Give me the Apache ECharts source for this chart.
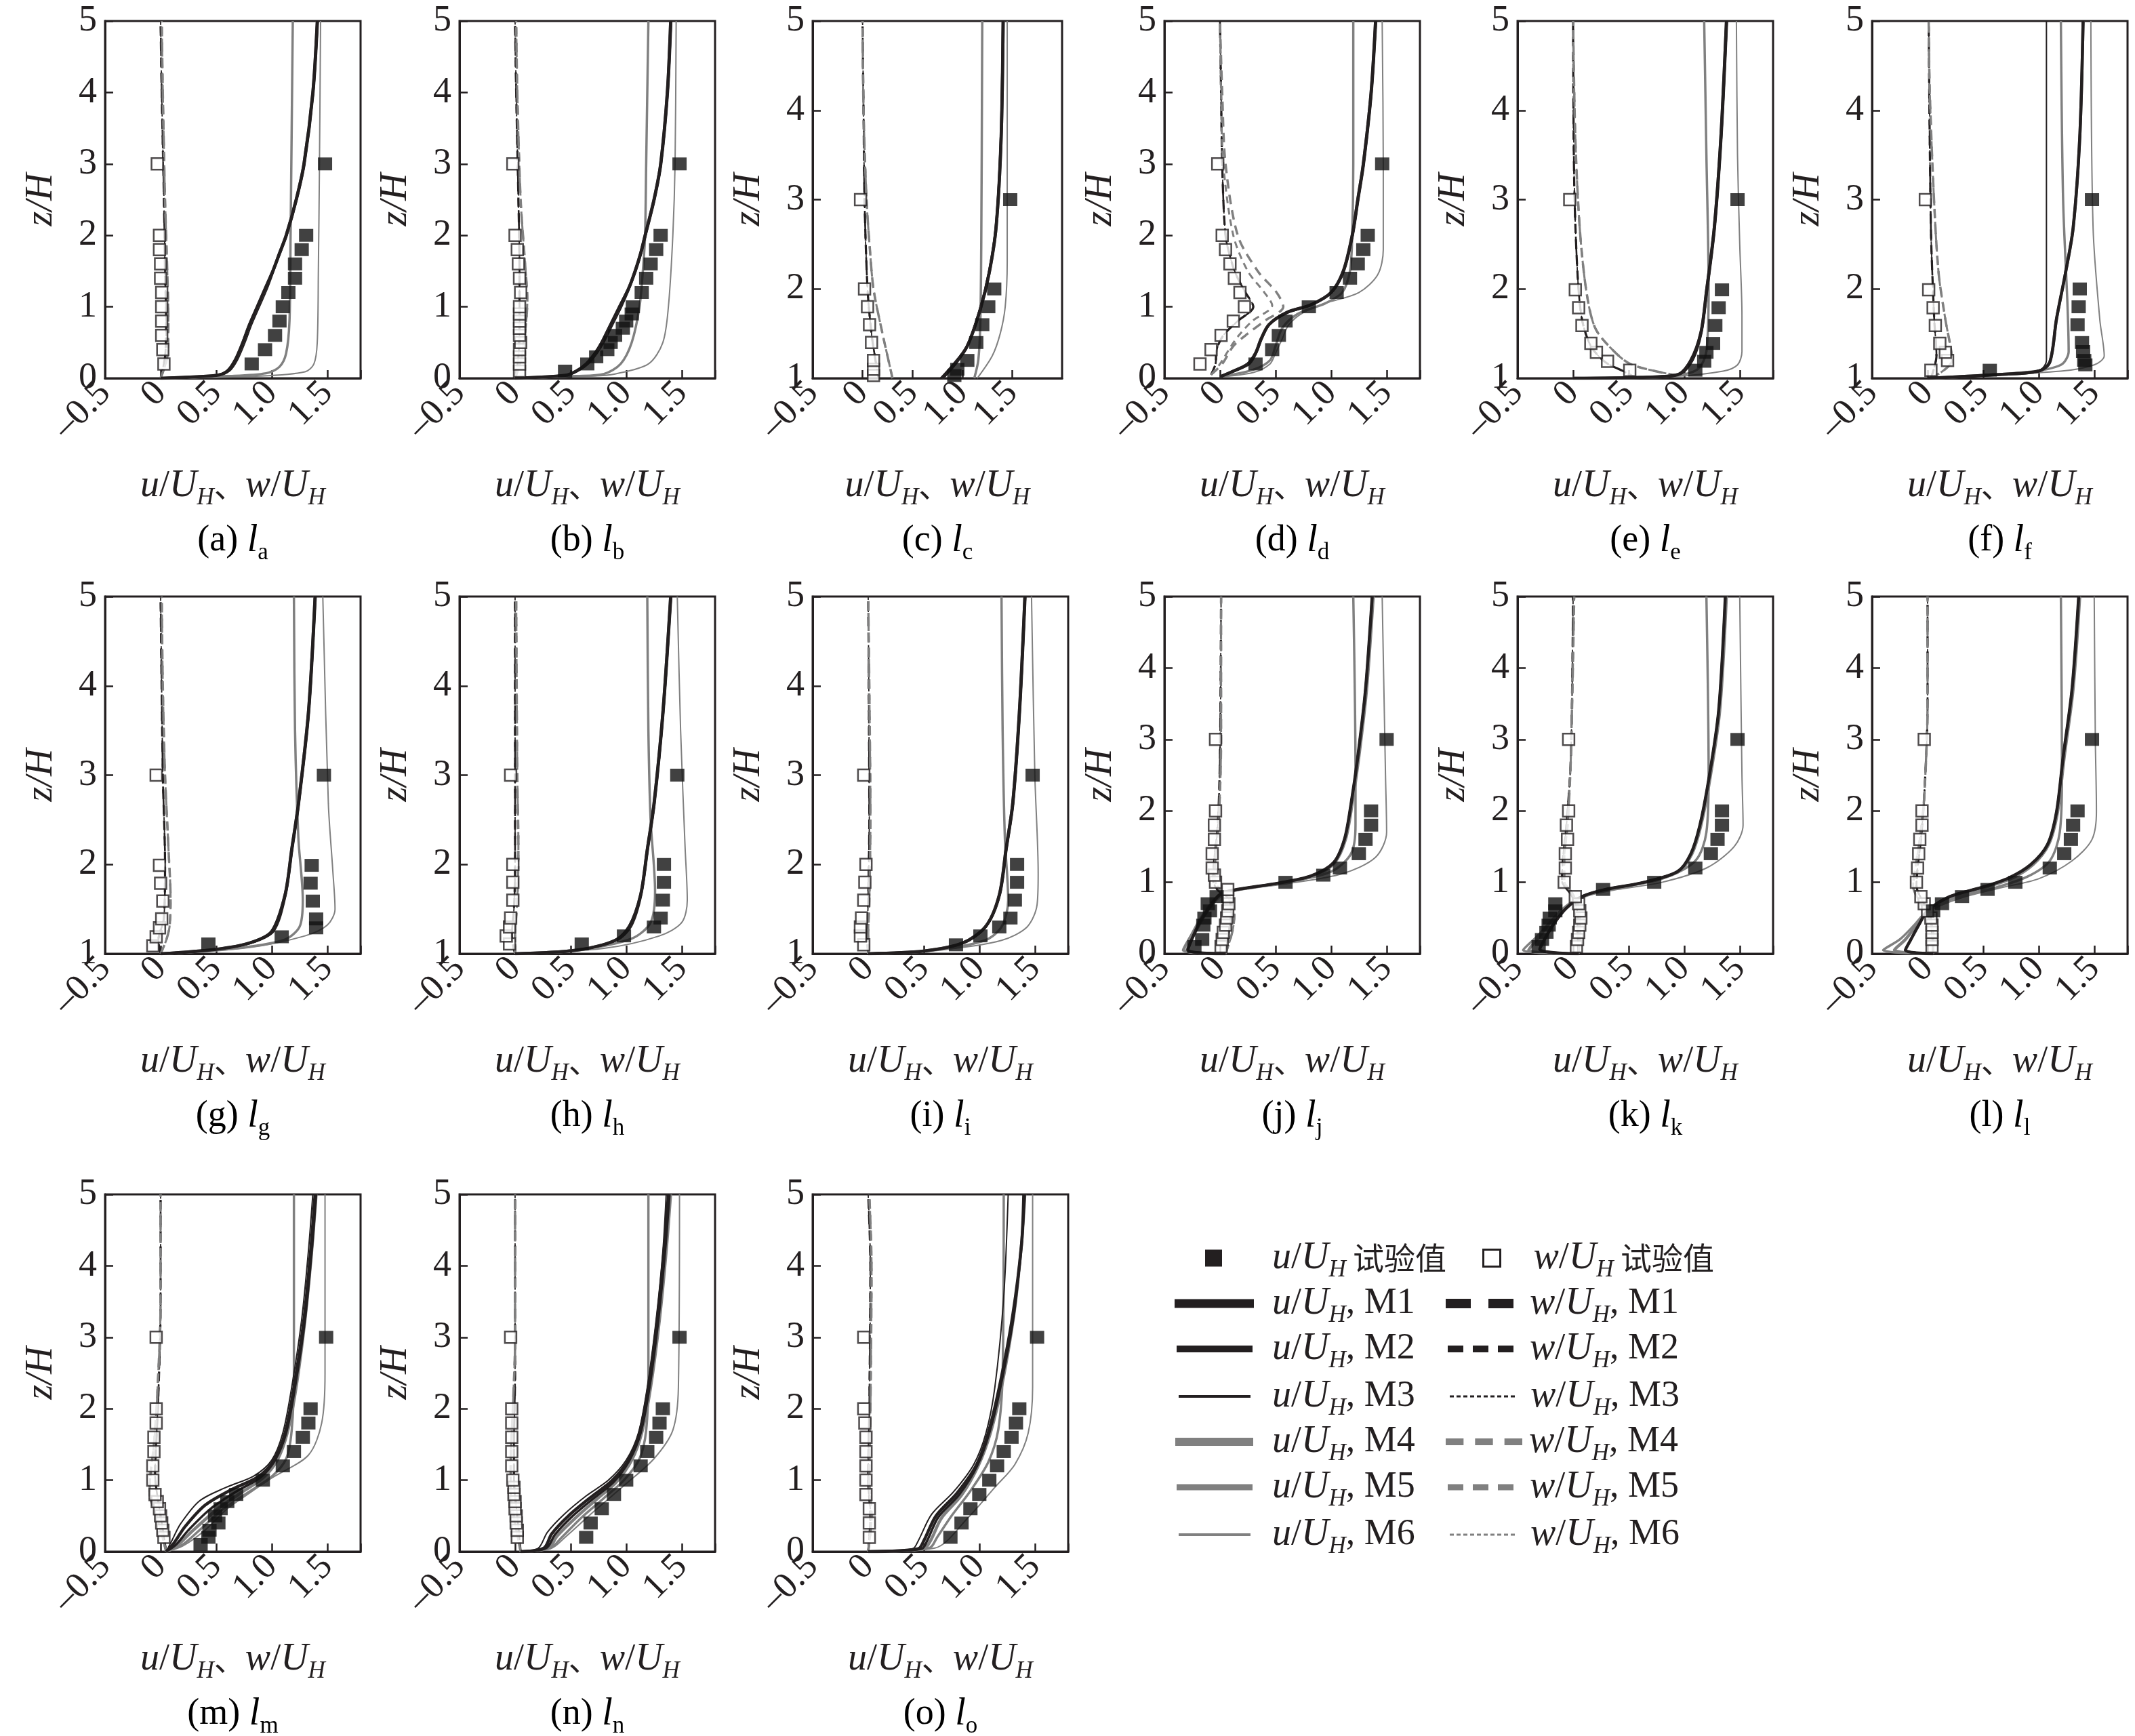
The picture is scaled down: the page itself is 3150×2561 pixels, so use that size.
<!DOCTYPE html>
<html><head><meta charset="utf-8">
<script src="https://cdn.jsdelivr.net/npm/echarts@6/dist/echarts.min.js"></script>
<style>html,body{margin:0;padding:0;background:#fff}#c{width:3150px;height:2561px}</style>
</head><body><div id="c"></div>
<script>
// ---------------- DATA (x = u/UH or w/UH, y = z/H) ----------------
// (a)
const a_uExp=[[0.82,0.2],[0.94,0.4],[1.03,0.6],[1.07,0.8],[1.10,1.0],[1.15,1.2],[1.21,1.4],[1.21,1.6],[1.27,1.8],[1.31,2.0],[1.48,3.0]];
const a_wExp=[[0.03,0.2],[0.02,0.4],[0.01,0.6],[0.01,0.8],[0.01,1.0],[0.01,1.2],[0.00,1.4],[0.00,1.6],[-0.01,1.8],[-0.01,2.0],[-0.03,3.0]];
const a_uM1=[[0,0],[0.50,0.04],[0.60,0.1],[0.67,0.25],[0.74,0.5],[0.80,0.75],[0.87,1.0],[0.94,1.25],[1.01,1.5],[1.07,1.75],[1.13,2.0],[1.22,2.5],[1.29,3.0],[1.37,4.0],[1.41,5.0]];
const a_uM3=[[0,0],[0.52,0.04],[0.62,0.1],[0.69,0.25],[0.76,0.5],[0.82,0.75],[0.89,1.0],[0.96,1.25],[1.02,1.5],[1.08,1.75],[1.14,2.0],[1.23,2.5],[1.30,3.0],[1.38,4.0],[1.42,5.0]];
const a_uM5=[[0,0],[0.60,0.03],[0.95,0.07],[1.07,0.16],[1.13,0.35],[1.16,0.8],[1.17,2.0],[1.18,3.5],[1.19,5.0]];
const a_uM6=[[0,0],[0.90,0.03],[1.30,0.09],[1.38,0.2],[1.41,0.5],[1.42,1.5],[1.43,3.0],[1.44,5.0]];
const a_wB=[[0,0],[0.04,0.3],[0.05,0.8],[0.04,1.5],[0.03,2.5],[0.01,4.0],[0.00,5.0]];
const a_wG=[[0,0],[0.06,0.3],[0.07,0.8],[0.06,1.5],[0.04,2.5],[0.02,4.0],[0.01,5.0]];
// (b)
const b_uExp=[[0.45,0.1],[0.65,0.2],[0.73,0.3],[0.83,0.4],[0.86,0.5],[0.90,0.6],[0.97,0.7],[1.00,0.8],[1.05,0.9],[1.06,1.0],[1.14,1.2],[1.18,1.4],[1.22,1.6],[1.27,1.8],[1.31,2.0],[1.48,3.0]];
const b_wExp=[[0.04,0.1],[0.04,0.2],[0.04,0.3],[0.04,0.4],[0.05,0.5],[0.04,0.6],[0.04,0.7],[0.04,0.8],[0.04,0.9],[0.04,1.0],[0.05,1.2],[0.04,1.4],[0.03,1.6],[0.02,1.8],[0.00,2.0],[-0.02,3.0]];
const b_uM1=[[0,0],[0.45,0.04],[0.55,0.1],[0.64,0.2],[0.72,0.35],[0.78,0.5],[0.86,0.75],[0.94,1.0],[1.02,1.25],[1.08,1.5],[1.13,1.75],[1.17,2.0],[1.25,2.5],[1.31,3.0],[1.37,4.0],[1.40,5.0]];
const b_uM3=[[0,0],[0.47,0.04],[0.57,0.1],[0.66,0.2],[0.74,0.35],[0.80,0.5],[0.88,0.75],[0.96,1.0],[1.03,1.25],[1.09,1.5],[1.14,1.75],[1.18,2.0],[1.26,2.5],[1.32,3.0],[1.38,4.0],[1.41,5.0]];
const b_uM5=[[0,0],[0.55,0.03],[0.80,0.06],[0.95,0.2],[1.05,0.5],[1.12,1.0],[1.15,1.5],[1.17,2.0],[1.18,3.0],[1.20,5.0]];
const b_uM6=[[0,0],[0.70,0.03],[0.90,0.06],[1.20,0.2],[1.33,0.5],[1.38,1.0],[1.42,2.0],[1.44,3.0],[1.45,5.0]];
const b_wB=[[0,0],[0.03,0.3],[0.04,0.8],[0.04,1.5],[0.03,2.5],[0.01,4.0],[0.00,5.0]];
const b_wG=[[0,0],[0.06,0.3],[0.10,0.8],[0.11,1.1],[0.09,1.6],[0.05,2.5],[0.02,4.0],[0.01,5.0]];
// (c)
const c_uExp=[[0.92,1.03],[0.95,1.1],[1.05,1.2],[1.14,1.4],[1.20,1.6],[1.26,1.8],[1.32,2.0],[1.48,3.0]];
const c_wExp=[[0.11,1.03],[0.11,1.1],[0.11,1.2],[0.09,1.4],[0.07,1.6],[0.05,1.8],[0.02,2.0],[-0.02,3.0]];
const c_uM1=[[0.80,1.0],[0.92,1.15],[1.05,1.36],[1.18,1.77],[1.27,2.18],[1.34,2.7],[1.39,3.7],[1.41,5.0]];
const c_uM3=[[0.78,1.0],[0.90,1.15],[1.04,1.36],[1.17,1.77],[1.26,2.18],[1.33,2.7],[1.38,3.7],[1.40,5.0]];
const c_uM5=[[1.12,1.0],[1.16,1.2],[1.18,1.6],[1.19,2.5],[1.20,5.0]];
const c_uM6=[[1.15,1.0],[1.30,1.25],[1.38,1.5],[1.43,1.8],[1.45,2.3],[1.45,5.0]];
const c_wB=[[0.16,1.0],[0.13,1.2],[0.09,1.5],[0.05,2.0],[0.02,3.0],[0.01,4.0],[0.00,5.0]];
const c_wG=[[0.30,1.0],[0.26,1.2],[0.20,1.5],[0.11,2.0],[0.07,2.5],[0.04,3.0],[0.01,4.0],[0.00,5.0]];
// (d)
const d_uExp=[[0.32,0.2],[0.47,0.4],[0.53,0.6],[0.59,0.8],[0.80,1.0],[1.05,1.2],[1.17,1.4],[1.24,1.6],[1.29,1.8],[1.33,2.0],[1.46,3.0]];
const d_wExp=[[-0.18,0.2],[-0.08,0.4],[0.01,0.6],[0.12,0.8],[0.22,1.0],[0.18,1.2],[0.13,1.4],[0.09,1.6],[0.05,1.8],[0.02,2.0],[-0.02,3.0]];
const d_uM1=[[0,0.02],[0.12,0.1],[0.25,0.2],[0.32,0.35],[0.37,0.55],[0.44,0.75],[0.60,0.92],[0.82,1.03],[1.00,1.2],[1.11,1.5],[1.19,2.0],[1.24,2.5],[1.29,3.0],[1.36,4.0],[1.40,5.0]];
const d_uM3=[[0,0.02],[0.14,0.1],[0.27,0.2],[0.33,0.35],[0.38,0.55],[0.45,0.75],[0.62,0.92],[0.84,1.03],[1.01,1.2],[1.12,1.5],[1.20,2.0],[1.25,2.5],[1.30,3.0],[1.37,4.0],[1.41,5.0]];
const d_uM5=[[0,0.02],[0.30,0.12],[0.45,0.25],[0.50,0.45],[0.56,0.7],[0.70,0.9],[0.95,1.05],[1.10,1.2],[1.17,1.5],[1.19,2.0],[1.20,3.0],[1.20,5.0]];
const d_uM6=[[0,0.02],[0.30,0.08],[0.45,0.2],[0.50,0.35],[0.56,0.55],[0.62,0.75],[0.75,0.92],[0.95,1.05],[1.25,1.2],[1.42,1.45],[1.47,1.8],[1.47,3.0],[1.46,5.0]];
const d_wB=[[-0.08,0.05],[-0.04,0.2],[-0.03,0.4],[0.03,0.6],[0.16,0.8],[0.30,1.0],[0.23,1.2],[0.16,1.4],[0.11,1.6],[0.05,2.0],[0.02,3.0],[0.01,4.0],[0.00,5.0]];
const d_wM4=[[-0.08,0.05],[0.02,0.2],[0.12,0.45],[0.23,0.6],[0.40,0.8],[0.57,1.0],[0.51,1.2],[0.34,1.5],[0.16,2.0],[0.05,3.0],[0.02,4.0],[0.00,5.0]];
const d_wM5=[[-0.08,0.05],[0.00,0.2],[0.10,0.45],[0.17,0.6],[0.29,0.8],[0.47,1.02],[0.40,1.2],[0.25,1.5],[0.12,2.0],[0.03,3.0],[0.01,4.0],[0.00,5.0]];
// (e)
const e_uExp=[[1.10,1.09],[1.18,1.19],[1.20,1.29],[1.26,1.39],[1.28,1.59],[1.31,1.79],[1.34,1.99],[1.48,3.0]];
const e_wExp=[[0.51,1.09],[0.31,1.19],[0.21,1.29],[0.16,1.39],[0.08,1.59],[0.05,1.79],[0.02,1.99],[-0.03,3.0]];
const e_uM1=[[0,1.0],[0.60,1.01],[0.94,1.04],[1.06,1.2],[1.15,1.51],[1.20,1.97],[1.27,2.68],[1.33,3.7],[1.38,5.0]];
const e_uM3=[[0,1.0],[0.62,1.01],[0.96,1.04],[1.08,1.2],[1.16,1.51],[1.21,1.97],[1.28,2.68],[1.34,3.7],[1.39,5.0]];
const e_uM5=[[0,1.0],[0.90,1.03],[1.12,1.1],[1.20,1.3],[1.22,2.0],[1.20,3.5],[1.18,5.0]];
const e_uM6=[[0,1.0],[0.90,1.02],[1.35,1.08],[1.48,1.15],[1.52,1.3],[1.52,1.7],[1.50,2.5],[1.48,3.5],[1.47,5.0]];
const e_wB=[[0.57,1.0],[0.45,1.08],[0.29,1.18],[0.16,1.36],[0.08,1.66],[0.04,2.17],[0.01,3.2],[0.00,5.0]];
const e_wG=[[0.94,1.03],[0.53,1.15],[0.37,1.3],[0.20,1.56],[0.12,1.97],[0.06,2.68],[0.02,3.7],[0.00,5.0]];
// (f)
const f_uExp=[[0.56,1.09],[1.42,1.15],[1.41,1.2],[1.40,1.3],[1.39,1.4],[1.35,1.6],[1.36,1.8],[1.37,2.0],[1.48,3.0]];
const f_wExp=[[0.03,1.09],[0.18,1.2],[0.16,1.29],[0.11,1.39],[0.07,1.59],[0.05,1.79],[0.01,1.99],[-0.02,3.0]];
const f_uM1=[[0,1.0],[0.60,1.04],[1.00,1.08],[1.10,1.18],[1.16,1.66],[1.24,2.17],[1.31,2.68],[1.37,3.7],[1.40,5.0]];
const f_uM3=[[0,1.0],[0.80,1.05],[1.02,1.1],[1.07,1.2],[1.07,5.0]];
const f_uM5=[[0,1.0],[0.90,1.07],[1.20,1.15],[1.27,1.3],[1.26,1.8],[1.22,3.0],[1.20,5.0]];
const f_uM6=[[0,1.0],[1.20,1.08],[1.50,1.15],[1.59,1.25],[1.55,1.66],[1.49,2.68],[1.47,5.0]];
const f_wB=[[0.03,1.0],[0.08,1.25],[0.06,1.66],[0.03,2.68],[0.01,5.0]];
const f_wG=[[0.03,1.0],[0.22,1.2],[0.16,1.66],[0.10,2.17],[0.06,2.95],[0.02,4.2],[0.01,5.0]];
// (g)
const g_uExp=[[0.43,1.11],[1.09,1.19],[1.40,1.29],[1.40,1.39],[1.37,1.59],[1.35,1.79],[1.36,1.99],[1.47,3.0]];
const g_wExp=[[-0.07,1.09],[-0.04,1.19],[-0.01,1.29],[0.01,1.39],[0.02,1.59],[0.00,1.79],[-0.01,1.99],[-0.04,3.0]];
const g_uM1=[[0,1.0],[0.50,1.05],[0.80,1.12],[1.00,1.25],[1.12,1.66],[1.18,2.17],[1.24,2.68],[1.33,3.7],[1.39,5.0]];
const g_uM3=[[0,1.0],[0.52,1.05],[0.82,1.12],[1.02,1.25],[1.13,1.66],[1.19,2.17],[1.25,2.68],[1.34,3.7],[1.40,5.0]];
const g_uM5=[[0,1.0],[0.60,1.05],[1.10,1.15],[1.25,1.3],[1.28,1.6],[1.24,2.3],[1.21,3.5],[1.20,5.0]];
const g_uM6=[[0,1.0],[0.80,1.07],[1.30,1.2],[1.50,1.32],[1.57,1.5],[1.55,1.93],[1.51,2.68],[1.46,5.0]];
const g_wB=[[0,1.0],[-0.02,1.15],[0.03,1.4],[0.04,2.0],[0.02,3.0],[0.00,5.0]];
const g_wG=[[0,1.0],[0.05,1.15],[0.08,1.3],[0.09,1.6],[0.07,2.2],[0.04,3.0],[0.02,4.0],[0.01,5.0]];
// (h)
const h_uExp=[[0.60,1.11],[0.98,1.2],[1.25,1.3],[1.31,1.4],[1.33,1.6],[1.34,1.8],[1.34,2.0],[1.46,3.0]];
const h_wExp=[[-0.05,1.11],[-0.08,1.2],[-0.05,1.3],[-0.04,1.4],[-0.02,1.6],[-0.02,1.8],[-0.02,2.0],[-0.04,3.0]];
const h_uM1=[[0,1.0],[0.55,1.04],[0.90,1.15],[1.03,1.31],[1.13,1.66],[1.19,2.17],[1.25,2.68],[1.33,3.7],[1.40,5.0]];
const h_uM3=[[0,1.0],[0.57,1.04],[0.92,1.15],[1.05,1.31],[1.14,1.66],[1.20,2.17],[1.26,2.68],[1.34,3.7],[1.41,5.0]];
const h_uM5=[[0,1.0],[0.60,1.05],[1.05,1.17],[1.22,1.35],[1.26,1.7],[1.22,2.5],[1.20,3.5],[1.19,5.0]];
const h_uM6=[[0,1.0],[0.80,1.06],[1.30,1.2],[1.50,1.35],[1.55,1.6],[1.53,2.2],[1.49,3.5],[1.46,5.0]];
const h_wB=[[0,1.0],[-0.03,1.2],[-0.01,1.5],[0.00,2.0],[0.00,5.0]];
const h_wG=[[0,1.0],[0.00,1.2],[0.02,1.6],[0.03,2.2],[0.02,3.0],[0.01,5.0]];
// (i)
const i_uExp=[[0.79,1.1],[1.01,1.2],[1.18,1.3],[1.28,1.4],[1.32,1.6],[1.34,1.8],[1.34,2.0],[1.48,3.0]];
const i_wExp=[[-0.04,1.1],[-0.07,1.2],[-0.07,1.3],[-0.06,1.4],[-0.04,1.6],[-0.03,1.8],[-0.02,2.0],[-0.04,3.0]];
const i_uM1=[[0,1.0],[0.50,1.03],[0.85,1.12],[1.06,1.31],[1.18,1.66],[1.24,2.17],[1.30,2.68],[1.36,3.7],[1.41,5.0]];
const i_uM3=[[0,1.0],[0.52,1.03],[0.87,1.12],[1.07,1.31],[1.19,1.66],[1.25,2.17],[1.31,2.68],[1.37,3.7],[1.42,5.0]];
const i_uM5=[[0,1.0],[0.60,1.04],[1.05,1.15],[1.20,1.3],[1.26,1.6],[1.23,2.3],[1.21,3.5],[1.20,5.0]];
const i_uM6=[[0,1.0],[0.70,1.05],[1.20,1.15],[1.43,1.3],[1.52,1.55],[1.53,1.9],[1.50,3.0],[1.47,5.0]];
const i_wB=[[0,1.0],[-0.01,1.2],[0.00,1.6],[0.01,2.5],[0.00,5.0]];
const i_wG=[[0,1.0],[0.00,1.2],[0.01,1.6],[0.02,2.5],[0.01,4.0],[0.00,5.0]];
// (j)
const j_uExp=[[-0.23,0.1],[-0.16,0.2],[-0.15,0.4],[-0.14,0.5],[-0.09,0.6],[-0.11,0.7],[-0.03,0.8],[0.59,1.0],[0.93,1.1],[1.08,1.2],[1.25,1.4],[1.31,1.6],[1.36,1.8],[1.36,2.0],[1.50,3.0]];
const j_wExp=[[0.01,0.1],[0.02,0.2],[0.03,0.3],[0.05,0.4],[0.06,0.5],[0.07,0.6],[0.08,0.7],[0.07,0.8],[0.07,0.9],[-0.04,1.0],[-0.05,1.1],[-0.07,1.2],[-0.07,1.4],[-0.05,1.6],[-0.05,1.8],[-0.04,2.0],[-0.04,3.0]];
const j_uM1=[[0.05,0],[-0.29,0.05],[-0.24,0.25],[-0.18,0.45],[-0.10,0.64],[0.00,0.83],[0.12,0.89],[0.53,0.99],[0.82,1.09],[1.02,1.27],[1.12,1.6],[1.18,2.1],[1.24,2.75],[1.31,3.7],[1.37,5.0]];
const j_uM4=[[0.05,0],[-0.33,0.05],[-0.26,0.25],[-0.19,0.45],[-0.11,0.64],[0.00,0.83],[0.14,0.89],[0.55,0.99],[0.84,1.09],[1.03,1.27],[1.13,1.6],[1.19,2.1],[1.25,2.75],[1.32,3.7],[1.38,5.0]];
const j_uM5=[[0.05,0],[-0.30,0.05],[-0.22,0.3],[-0.10,0.62],[0.05,0.85],[0.60,1.0],[1.00,1.15],[1.18,1.4],[1.22,1.8],[1.22,2.5],[1.20,5.0]];
const j_uM6=[[0.05,0],[-0.30,0.05],[-0.22,0.3],[-0.10,0.62],[0.05,0.85],[0.60,0.98],[1.10,1.12],[1.40,1.35],[1.50,1.7],[1.49,2.5],[1.46,5.0]];
const j_wB=[[0.05,0],[0.08,0.32],[0.10,0.57],[0.08,0.77],[-0.02,0.89],[-0.06,1.02],[-0.05,1.34],[-0.02,1.79],[0.00,2.75],[0.01,5.0]];
const j_wG=[[0.05,0],[0.11,0.3],[0.13,0.55],[0.10,0.77],[0.00,0.9],[-0.05,1.05],[-0.04,1.4],[-0.01,1.9],[0.01,3.0],[0.01,5.0]];
// (k)
const k_uExp=[[-0.31,0.1],[-0.28,0.2],[-0.24,0.3],[-0.22,0.4],[-0.21,0.5],[-0.16,0.6],[-0.16,0.7],[0.27,0.9],[0.73,1.0],[1.10,1.2],[1.24,1.4],[1.30,1.6],[1.34,1.8],[1.34,2.0],[1.48,3.0]];
const k_wExp=[[0.03,0.1],[0.04,0.2],[0.05,0.3],[0.06,0.4],[0.07,0.5],[0.06,0.6],[0.05,0.7],[0.02,0.8],[-0.08,1.0],[-0.07,1.2],[-0.07,1.4],[-0.05,1.6],[-0.06,1.8],[-0.04,2.0],[-0.04,3.0]];
const k_uM1=[[0.05,0],[-0.30,0.06],[-0.24,0.25],[-0.16,0.45],[-0.06,0.64],[0.08,0.8],[0.29,0.9],[0.61,0.99],[0.94,1.15],[1.06,1.4],[1.14,1.79],[1.22,2.43],[1.31,3.4],[1.37,5.0]];
const k_uM4=[[0.05,0],[-0.40,0.05],[-0.30,0.25],[-0.20,0.45],[-0.08,0.64],[0.08,0.8],[0.30,0.9],[0.62,0.99],[0.95,1.15],[1.07,1.4],[1.15,1.79],[1.23,2.43],[1.32,3.4],[1.38,5.0]];
const k_uM5=[[0.05,0],[-0.45,0.05],[-0.32,0.25],[-0.20,0.45],[-0.08,0.64],[0.10,0.8],[0.40,0.92],[0.80,1.05],[1.10,1.3],[1.20,1.7],[1.22,2.5],[1.20,5.0]];
const k_uM6=[[0.05,0],[-0.45,0.05],[-0.32,0.25],[-0.20,0.45],[-0.08,0.64],[0.10,0.8],[0.40,0.9],[0.80,1.0],[1.20,1.2],[1.45,1.5],[1.53,1.8],[1.52,2.5],[1.50,5.0]];
const k_wB=[[0.05,0],[0.04,0.32],[0.04,0.57],[-0.02,0.83],[-0.10,1.02],[-0.09,1.34],[-0.06,1.79],[-0.02,2.75],[0.00,5.0]];
const k_wG=[[0.05,0],[0.06,0.32],[0.06,0.57],[0.00,0.83],[-0.08,1.02],[-0.08,1.34],[-0.05,1.79],[-0.02,2.75],[0.01,5.0]];
// (l)
const l_uExp=[[0.05,0.6],[0.13,0.7],[0.31,0.8],[0.54,0.9],[0.79,1.0],[1.10,1.2],[1.23,1.4],[1.29,1.6],[1.31,1.8],[1.35,2.0],[1.48,3.0]];
const l_wExp=[[0.04,0.1],[0.04,0.2],[0.04,0.3],[0.04,0.4],[0.03,0.5],[0.00,0.6],[-0.03,0.7],[-0.06,0.8],[-0.10,1.0],[-0.09,1.2],[-0.08,1.4],[-0.07,1.6],[-0.05,1.8],[-0.05,2.0],[-0.03,3.0]];
const l_uM1=[[0.05,0],[-0.20,0.05],[-0.15,0.2],[-0.08,0.4],[0.00,0.6],[0.20,0.8],[0.49,0.93],[0.73,1.06],[0.93,1.25],[1.08,1.53],[1.16,1.98],[1.22,2.75],[1.30,3.7],[1.36,5.0]];
const l_uM4=[[0.05,0],[-0.30,0.05],[-0.20,0.2],[-0.10,0.4],[0.00,0.6],[0.20,0.78],[0.50,0.92],[0.75,1.05],[0.95,1.25],[1.09,1.53],[1.17,1.98],[1.23,2.75],[1.31,3.7],[1.37,5.0]];
const l_uM5=[[0.05,0],[-0.40,0.05],[-0.25,0.2],[-0.12,0.4],[0.00,0.6],[0.25,0.78],[0.60,0.92],[0.90,1.08],[1.10,1.3],[1.19,1.7],[1.21,2.5],[1.20,5.0]];
const l_uM6=[[0.05,0],[-0.40,0.05],[-0.25,0.2],[-0.12,0.4],[0.02,0.6],[0.30,0.78],[0.65,0.92],[1.00,1.05],[1.30,1.3],[1.48,1.6],[1.52,2.0],[1.51,3.0],[1.50,5.0]];
const l_wB=[[0.05,0],[0.04,0.3],[0.02,0.55],[-0.05,0.75],[-0.10,0.95],[-0.09,1.2],[-0.06,1.6],[-0.03,2.2],[0.00,3.5],[0.00,5.0]];
const l_wG=[[0.05,0],[0.05,0.3],[0.00,0.55],[-0.08,0.75],[-0.13,0.95],[-0.11,1.2],[-0.07,1.6],[-0.03,2.2],[0.00,3.5],[0.00,5.0]];
// (m)
const m_uExp=[[0.36,0.1],[0.43,0.2],[0.44,0.3],[0.52,0.4],[0.49,0.5],[0.54,0.6],[0.60,0.7],[0.68,0.8],[0.92,1.0],[1.10,1.2],[1.20,1.4],[1.28,1.6],[1.33,1.8],[1.35,2.0],[1.49,3.0]];
const m_wExp=[[0.03,0.2],[0.02,0.3],[0.01,0.4],[0.00,0.5],[-0.01,0.6],[-0.03,0.7],[-0.05,0.8],[-0.07,1.0],[-0.07,1.2],[-0.06,1.4],[-0.06,1.6],[-0.04,1.8],[-0.04,2.0],[-0.04,3.0]];
const m_uM1=[[0.05,0],[0.12,0.12],[0.22,0.35],[0.40,0.65],[0.64,0.87],[0.88,1.05],[1.02,1.28],[1.12,1.66],[1.20,2.3],[1.29,3.25],[1.35,4.2],[1.39,5.0]];
const m_uM2=[[0.05,0],[0.14,0.1],[0.25,0.3],[0.45,0.6],[0.68,0.84],[0.90,1.04],[1.03,1.28],[1.13,1.66],[1.21,2.3],[1.30,3.25],[1.36,4.2],[1.40,5.0]];
const m_uM3=[[0.05,0],[0.10,0.15],[0.18,0.39],[0.35,0.71],[0.59,0.9],[0.84,1.06],[1.00,1.28],[1.10,1.66],[1.18,2.3],[1.27,3.25],[1.33,4.2],[1.37,5.0]];
const m_uM4=[[0.05,0],[0.16,0.1],[0.28,0.28],[0.50,0.58],[0.72,0.82],[0.92,1.03],[1.05,1.28],[1.14,1.66],[1.22,2.3],[1.30,3.25],[1.36,4.2],[1.40,5.0]];
const m_uM5=[[0.05,0],[0.20,0.1],[0.35,0.3],[0.55,0.58],[0.78,0.82],[1.00,1.05],[1.13,1.3],[1.18,1.7],[1.20,2.5],[1.20,5.0]];
const m_uM6=[[0.05,0],[0.20,0.08],[0.40,0.3],[0.60,0.6],[0.80,0.82],[1.00,1.03],[1.33,1.35],[1.45,1.8],[1.48,2.5],[1.48,5.0]];
const m_wB=[[0.05,0],[0.02,0.3],[-0.01,0.6],[-0.04,0.9],[-0.05,1.1],[-0.04,1.5],[-0.02,2.2],[0.00,3.5],[0.00,5.0]];
const m_wG=[[0.05,0],[0.00,0.3],[-0.06,0.6],[-0.10,0.8],[-0.09,1.1],[-0.06,1.5],[-0.03,2.2],[0.00,3.5],[0.00,5.0]];
// (n)
const n_uExp=[[0.64,0.2],[0.68,0.4],[0.78,0.6],[0.89,0.8],[1.00,1.0],[1.13,1.2],[1.19,1.4],[1.27,1.6],[1.30,1.8],[1.33,2.0],[1.48,3.0]];
const n_wExp=[[0.02,0.2],[0.02,0.3],[0.01,0.4],[0.01,0.5],[0.00,0.6],[0.00,0.7],[-0.01,0.8],[-0.01,0.9],[-0.02,1.0],[-0.03,1.2],[-0.03,1.4],[-0.03,1.6],[-0.03,1.8],[-0.03,2.0],[-0.04,3.0]];
const n_uM1=[[0.05,0],[0.26,0.05],[0.33,0.25],[0.48,0.5],[0.68,0.76],[0.87,0.99],[1.02,1.28],[1.12,1.66],[1.20,2.3],[1.28,3.25],[1.34,4.2],[1.38,5.0]];
const n_uM2=[[0.05,0],[0.28,0.05],[0.36,0.24],[0.52,0.5],[0.71,0.75],[0.89,0.98],[1.03,1.28],[1.13,1.66],[1.21,2.3],[1.29,3.25],[1.35,4.2],[1.39,5.0]];
const n_uM3=[[0.05,0],[0.21,0.05],[0.29,0.27],[0.44,0.52],[0.64,0.78],[0.84,1.0],[1.00,1.28],[1.11,1.66],[1.19,2.3],[1.27,3.25],[1.33,4.2],[1.36,5.0]];
const n_uM4=[[0.05,0],[0.30,0.05],[0.38,0.22],[0.55,0.48],[0.74,0.74],[0.91,0.97],[1.05,1.28],[1.14,1.66],[1.22,2.3],[1.30,3.25],[1.36,4.2],[1.40,5.0]];
const n_uM5=[[0.05,0],[0.32,0.05],[0.42,0.2],[0.60,0.48],[0.80,0.75],[0.98,1.0],[1.12,1.3],[1.18,1.7],[1.20,2.5],[1.20,5.0]];
const n_uM6=[[0.05,0],[0.33,0.05],[0.45,0.2],[0.70,0.55],[1.00,0.95],[1.25,1.3],[1.42,1.7],[1.47,2.3],[1.48,5.0]];
const n_wB=[[0.05,0],[0.02,0.5],[-0.01,1.0],[-0.01,1.5],[0.00,2.5],[0.00,5.0]];
const n_wG=[[0.05,0],[0.00,0.4],[-0.04,0.8],[-0.04,1.2],[-0.02,2.0],[0.00,3.0],[0.00,5.0]];
// (o)
const o_uExp=[[0.74,0.2],[0.84,0.4],[0.92,0.6],[1.00,0.8],[1.09,1.0],[1.16,1.2],[1.22,1.4],[1.29,1.6],[1.33,1.8],[1.36,2.0],[1.52,3.0]];
const o_wExp=[[0.01,0.2],[0.01,0.4],[0.01,0.6],[-0.02,0.8],[-0.02,1.0],[-0.02,1.2],[-0.02,1.4],[-0.02,1.6],[-0.03,1.8],[-0.04,2.0],[-0.04,3.0]];
const o_uM1=[[0,0],[0.45,0.04],[0.50,0.15],[0.61,0.5],[0.80,0.82],[0.97,1.2],[1.08,1.66],[1.18,2.3],[1.30,3.3],[1.38,4.3],[1.40,5.0]];
const o_uM2=[[0,0],[0.48,0.04],[0.53,0.15],[0.63,0.48],[0.82,0.8],[0.98,1.2],[1.09,1.66],[1.19,2.3],[1.31,3.3],[1.38,4.3],[1.41,5.0]];
const o_uM3=[[0,0],[0.40,0.04],[0.45,0.15],[0.57,0.52],[0.77,0.84],[0.95,1.22],[1.06,1.66],[1.14,2.3],[1.22,3.57],[1.26,5.0]];
const o_uM4=[[0,0],[0.50,0.04],[0.56,0.15],[0.66,0.47],[0.84,0.79],[0.99,1.2],[1.10,1.66],[1.20,2.3],[1.31,3.3],[1.38,4.3],[1.41,5.0]];
const o_uM5=[[0,0],[0.55,0.05],[0.62,0.2],[0.75,0.5],[0.92,0.85],[1.08,1.25],[1.17,1.7],[1.21,2.5],[1.22,5.0]];
const o_uM6=[[0,0],[0.60,0.05],[0.89,0.46],[1.14,0.9],[1.32,1.22],[1.44,1.66],[1.48,2.3],[1.48,5.0]];
const o_wB=[[0,0],[0.02,0.5],[0.00,1.0],[0.01,2.0],[0.02,4.0],[0.00,5.0]];
const o_wG=[[0,0],[0.03,0.5],[0.01,1.0],[0.02,2.0],[0.03,4.0],[0.01,5.0]];

const panelIds=['a','b','c','d','e','f','g','h','i','j','k','l','m','n','o'];
const yMins=[0,0,1,0,1,1,1,1,1,0,0,0,0,0,0];
const xMaxs=[1.8,1.8,2.0,1.8,1.8,1.8,1.8,1.8,1.8,1.8,1.8,1.8,1.8,1.8,1.8];
const yTicks=[0,1,2,3,4,5];
const xTicks=[-0.5,0,0.5,1.0,1.5,2.0];
const uExps=[a_uExp,b_uExp,c_uExp,d_uExp,e_uExp,f_uExp,g_uExp,h_uExp,i_uExp,j_uExp,k_uExp,l_uExp,m_uExp,n_uExp,o_uExp];
const wExps=[a_wExp,b_wExp,c_wExp,d_wExp,e_wExp,f_wExp,g_wExp,h_wExp,i_wExp,j_wExp,k_wExp,l_wExp,m_wExp,n_wExp,o_wExp];
const uCurves=[
 [a_uM1,a_uM1,a_uM3,a_uM1,a_uM5,a_uM6],
 [b_uM1,b_uM1,b_uM3,b_uM1,b_uM5,b_uM6],
 [c_uM1,c_uM1,c_uM3,c_uM1,c_uM5,c_uM6],
 [d_uM1,d_uM1,d_uM3,d_uM1,d_uM5,d_uM6],
 [e_uM1,e_uM1,e_uM3,e_uM1,e_uM5,e_uM6],
 [f_uM1,f_uM1,f_uM3,f_uM1,f_uM5,f_uM6],
 [g_uM1,g_uM1,g_uM3,g_uM1,g_uM5,g_uM6],
 [h_uM1,h_uM1,h_uM3,h_uM1,h_uM5,h_uM6],
 [i_uM1,i_uM1,i_uM3,i_uM1,i_uM5,i_uM6],
 [j_uM1,j_uM1,j_uM1,j_uM4,j_uM5,j_uM6],
 [k_uM1,k_uM1,k_uM1,k_uM4,k_uM5,k_uM6],
 [l_uM1,l_uM1,l_uM1,l_uM4,l_uM5,l_uM6],
 [m_uM1,m_uM2,m_uM3,m_uM4,m_uM5,m_uM6],
 [n_uM1,n_uM2,n_uM3,n_uM4,n_uM5,n_uM6],
 [o_uM1,o_uM2,o_uM3,o_uM4,o_uM5,o_uM6]
];
const wCurves=[
 [a_wB,a_wB,a_wB,a_wG,a_wG,a_wB],
 [b_wB,b_wB,b_wB,b_wG,b_wG,b_wB],
 [c_wB,c_wB,c_wB,c_wG,c_wG,c_wB],
 [d_wB,d_wB,d_wB,d_wM4,d_wM5,d_wB],
 [e_wB,e_wB,e_wB,e_wG,e_wG,e_wB],
 [f_wB,f_wB,f_wB,f_wG,f_wG,f_wB],
 [g_wB,g_wB,g_wB,g_wG,g_wG,g_wB],
 [h_wB,h_wB,h_wB,h_wG,h_wG,h_wB],
 [i_wB,i_wB,i_wB,i_wG,i_wG,i_wB],
 [j_wB,j_wB,j_wB,j_wG,j_wG,j_wB],
 [k_wB,k_wB,k_wB,k_wG,k_wG,k_wB],
 [l_wB,l_wB,l_wB,l_wG,l_wG,l_wB],
 [m_wB,m_wB,m_wB,m_wG,m_wG,m_wB],
 [n_wB,n_wB,n_wB,n_wG,n_wG,n_wB],
 [o_wB,o_wB,o_wB,o_wG,o_wG,o_wB]
];

// ---------------- STYLE / LAYOUT ----------------
const INK='#231f20', GRAY='#808080';
const SERIF='Liberation Serif, Times New Roman, DejaVu Serif, serif';
const CJK='Noto Sans CJK SC';
const FS=54;
const RICH={
  n:{fontFamily:SERIF,fontSize:FS,color:INK,lineHeight:70},
  i:{fontFamily:SERIF,fontStyle:'italic',fontSize:FS+2,color:INK,lineHeight:70},
  s:{fontFamily:SERIF,fontStyle:'italic',fontSize:35,color:INK,lineHeight:35,verticalAlign:'bottom'},
  sr:{fontFamily:SERIF,fontSize:35,color:INK,lineHeight:35,verticalAlign:'bottom'},
  c:{fontFamily:CJK,fontSize:46,color:INK,lineHeight:70}
};
const colLeft=[155,678,1199,1718,2239,2762];
const rowTop=[31,880,1762];
const GW=377, GH=527;
const U_STYLE=[{color:INK,width:4.5},{color:INK,width:3.5},{color:INK,width:2},{color:GRAY,width:4.5},{color:GRAY,width:3.5},{color:GRAY,width:2}];
const W_STYLE=[{color:INK,width:3.2,type:[14,9]},{color:INK,width:2.6,type:[10,7]},{color:INK,width:1.6,type:[5,4]},{color:GRAY,width:3.5,type:[14,9]},{color:GRAY,width:3,type:[10,7]},{color:GRAY,width:1.6,type:[5,4]}];
const W_ORDER=[5,2,1,0,4,3];   // black dashes under grey dashes
const U_ORDER=[5,4,3,2,1,0];

function fmtX(v){
  const r=Math.round(v*100)/100;
  if(Math.abs(r*2-Math.round(r*2))>1e-6) return '';
  if(r===0) return '0';
  return (r<0?'\u2013':'')+Math.abs(r).toFixed(1);
}

const grids=[],xAxes=[],yAxes=[],series=[],graphics=[];
panelIds.forEach((id,k)=>{
  const row=Math.floor(k/6), col=k%6;
  const w = id==='c'?368:GW;
  const left=colLeft[col], top=rowTop[row];
  grids.push({left:left,top:top,width:w,height:GH,show:true,borderColor:INK,borderWidth:3,backgroundColor:'transparent',containLabel:false});
  xAxes.push({type:'value',gridIndex:k,min:xTicks[0],max:xMaxs[k],interval:0.5,
    axisLine:{show:true,onZero:false,lineStyle:{color:INK,width:3}},
    axisTick:{show:true,inside:true,length:12,lineStyle:{color:INK,width:2.5}},
    splitLine:{show:false},
    axisLabel:{rotate:45,margin:14,fontFamily:SERIF,fontSize:FS,color:INK,formatter:fmtX},
    name:'{i|u}{n|/}{i|U}{s|H}{c|\u3001}{i|w}{n|/}{i|U}{s|H}',nameLocation:'middle',nameGap:124,
    nameTextStyle:{rich:RICH}});
  yAxes.push({type:'value',gridIndex:k,min:yMins[k],max:yTicks[yTicks.length-1],interval:1,
    axisLine:{show:true,onZero:false,lineStyle:{color:INK,width:3}},
    axisTick:{show:true,inside:true,length:12,lineStyle:{color:INK,width:2.5}},
    splitLine:{show:false},
    axisLabel:{margin:12,fontFamily:SERIF,fontSize:FS,color:INK},
    name:'z/H',nameLocation:'middle',nameGap:66,nameRotate:90,
    nameTextStyle:{fontFamily:SERIF,fontStyle:'italic',fontSize:FS+2,color:INK}});
  graphics.push({type:'text',x:left+w/2,y:top+GH+240,style:{text:'{n|('+id+') }{i|l}{sr|'+id+'}',rich:RICH,align:'center',verticalAlign:'middle'}});
  const base={type:'line',xAxisIndex:k,yAxisIndex:k,symbol:'none',smooth:0.3,silent:true,animation:false,clip:true};
  W_ORDER.forEach(m=>{
    series.push(Object.assign({},base,{name:'wM'+(m+1),data:wCurves[k][m],lineStyle:W_STYLE[m],z:2}));
  });
  U_ORDER.forEach(m=>{
    series.push(Object.assign({},base,{name:'uM'+(m+1),data:uCurves[k][m],lineStyle:U_STYLE[m],z:3}));
  });
  series.push({type:'scatter',name:'wExp',xAxisIndex:k,yAxisIndex:k,data:wExps[k],symbol:'rect',symbolSize:17,
    itemStyle:{color:'#fff',borderColor:INK,borderWidth:2.5},silent:true,animation:false,z:5});
  series.push({type:'scatter',name:'uExp',xAxisIndex:k,yAxisIndex:k,data:uExps[k],symbol:'rect',symbolSize:[21,19],
    itemStyle:{color:'#111'},silent:true,animation:false,z:6});
});

function dashPath(n,dash,gap,h){
  let p='path://';
  for(let q=0;q<n;q++){const x=q*(dash+gap);p+='M'+x+',0h'+dash+'v'+h+'h-'+dash+'z';}
  return p;
}
function legendText(name){
  const v=name[0];
  if(name.endsWith('Exp')) return '{i|'+v+'}{n|/}{i|U}{s|H}{c| \u8bd5\u9a8c\u503c}';
  return '{i|'+v+'}{n|/}{i|U}{s|H}{n|, M'+name.slice(2)+'}';
}
const rowsY=[1863,1930,1997,2067,2134,2201,2271];
const legendDefs=[
 {name:'uExp',left:1778,y:rowsY[0],icon:'rect',w:25,h:25,color:INK,pad:69},
 {name:'uM1',left:1733,y:rowsY[1],icon:'rect',w:117,h:13,color:INK,pad:22},
 {name:'uM2',left:1736,y:rowsY[2],icon:'rect',w:112,h:10,color:INK,pad:24},
 {name:'uM3',left:1739,y:rowsY[3],icon:'rect',w:106,h:4,color:INK,pad:27},
 {name:'uM4',left:1734,y:rowsY[4],icon:'rect',w:115,h:12,color:GRAY,pad:23},
 {name:'uM5',left:1736,y:rowsY[5],icon:'rect',w:112,h:9,color:GRAY,pad:24},
 {name:'uM6',left:1739,y:rowsY[6],icon:'rect',w:106,h:4,color:GRAY,pad:27},
 {name:'wExp',left:2187,y:rowsY[0],icon:'rect',w:25,h:25,color:'#fff',border:INK,pad:44},
 {name:'wM1',left:2133,y:rowsY[1],icon:dashPath(2,37,26,14),w:100,h:14,color:INK,pad:19},
 {name:'wM2',left:2136,y:rowsY[2],icon:dashPath(3,23,14,10),w:97,h:10,color:INK,pad:19},
 {name:'wM3',left:2139,y:rowsY[3],icon:dashPath(10,6,4,3),w:96,h:3,color:INK,pad:18},
 {name:'wM4',left:2133,y:rowsY[4],icon:dashPath(3,31,20,12),w:113,h:12,color:GRAY,pad:5},
 {name:'wM5',left:2136,y:rowsY[5],icon:dashPath(3,23,14,9),w:97,h:9,color:GRAY,pad:19},
 {name:'wM6',left:2139,y:rowsY[6],icon:dashPath(10,6,4,3),w:96,h:3,color:GRAY,pad:18}
];
const legends=legendDefs.map(d=>({
  data:[d.name],left:d.left,top:d.y-35,orient:'horizontal',padding:0,selectedMode:false,
  icon:d.icon,itemWidth:d.w,itemHeight:d.h,
  itemStyle:{color:d.color,borderColor:d.border||d.color,borderWidth:d.border?3:0,opacity:1},
  formatter:legendText,
  textStyle:{rich:RICH,padding:[0,0,0,d.pad],fontFamily:SERIF,fontSize:FS,color:INK}
}));

const chart=echarts.init(document.getElementById('c'),null,{renderer:'canvas',width:3150,height:2561});
chart.setOption({
  animation:false,backgroundColor:'#fff',
  textStyle:{fontFamily:SERIF},
  grid:grids,xAxis:xAxes,yAxis:yAxes,series:series,legend:legends,
  graphic:{elements:graphics}
});
</script></body></html>
